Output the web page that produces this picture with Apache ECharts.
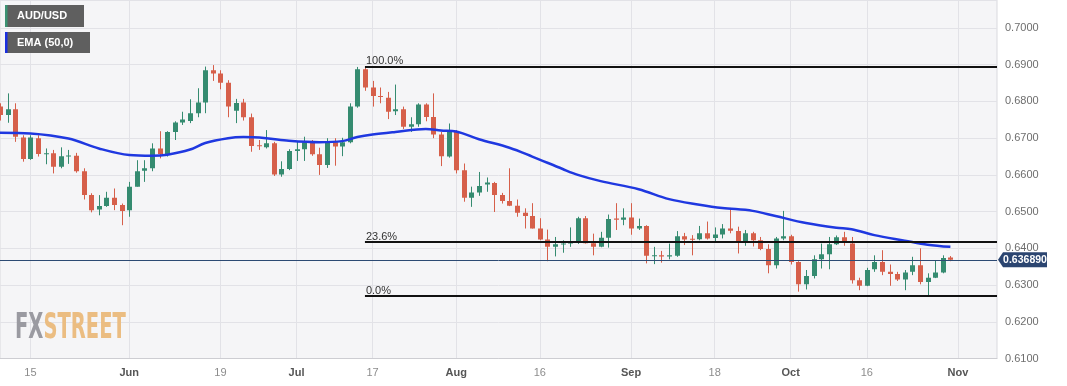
<!DOCTYPE html>
<html><head><meta charset="utf-8">
<script src="https://cdn.jsdelivr.net/npm/echarts@6/dist/echarts.min.js"></script>
<style>html,body{margin:0;padding:0;background:#fff}#c{width:1067px;height:386px}</style>
</head><body><div id="c"></div>
<script>
// AUD/USD daily candles, trading-day index 0 = 9 May 2023 ... 125 = 31 Oct 2023
const openP = [0.6786,0.6763,0.6779,0.6702,0.6643,0.6700,0.6656,0.6659,0.6622,0.6650,
0.6652,0.6610,0.6545,0.6506,0.6515,0.6538,0.6518,0.6504,0.6568,0.6611,
0.6618,0.6672,0.6654,0.6717,0.6743,0.6747,0.6768,0.6797,0.6885,0.6876,
0.6851,0.6775,0.6797,0.6757,0.6681,0.6675,0.6686,0.6601,0.6616,0.6665,
0.6670,0.6689,0.6656,0.6627,0.6689,0.6677,0.6689,0.6786,0.6888,0.6838,
0.6815,0.6810,0.6773,0.6779,0.6731,0.6738,0.6792,0.6758,0.6710,0.6650,
0.6717,0.6613,0.6538,0.6552,0.6574,0.6578,0.6545,0.6529,0.6516,0.6497,
0.6488,0.6454,0.6424,0.6404,0.6411,0.6413,0.6418,0.6482,0.6414,0.6404,
0.6429,0.6481,0.6478,0.6484,0.6454,0.6461,0.6380,0.6381,0.6378,0.6380,
0.6433,0.6426,0.6425,0.6441,0.6428,0.6438,0.6454,0.6447,0.6418,0.6441,
0.6422,0.6398,0.6354,0.6427,0.6433,0.6363,0.6302,0.6325,0.6370,0.6384,
0.6411,0.6430,0.6413,0.6313,0.6298,0.6343,0.6363,0.6336,0.6330,0.6315,
0.6336,0.6354,0.6308,0.6320,0.6334,0.6375];
const highP = [0.6795,0.6822,0.6795,0.6708,0.6708,0.6708,0.6672,0.6668,0.6675,0.6668,
0.6660,0.6618,0.6550,0.6545,0.6554,0.6563,0.6522,0.6581,0.6640,0.6640,
0.6686,0.6719,0.6719,0.6746,0.6772,0.6806,0.6836,0.6895,0.6899,0.6885,
0.6858,0.6807,0.6807,0.6767,0.6695,0.6722,0.6690,0.6637,0.6670,0.6690,
0.6704,0.6695,0.6674,0.6700,0.6700,0.6701,0.6795,0.6894,0.6894,0.6856,
0.6838,0.6826,0.6846,0.6786,0.6757,0.6795,0.6795,0.6822,0.6717,0.6740,
0.6722,0.6631,0.6568,0.6608,0.6593,0.6581,0.6551,0.6618,0.6533,0.6509,
0.6523,0.6482,0.6451,0.6431,0.6422,0.6457,0.6486,0.6488,0.6440,0.6445,
0.6492,0.6523,0.6509,0.6523,0.6481,0.6463,0.6404,0.6393,0.6413,0.6447,
0.6442,0.6436,0.6461,0.6473,0.6457,0.6466,0.6510,0.6459,0.6450,0.6445,
0.6431,0.6411,0.6431,0.6502,0.6437,0.6365,0.6341,0.6381,0.6413,0.6431,
0.6435,0.6445,0.6431,0.6320,0.6347,0.6381,0.6395,0.6356,0.6336,0.6341,
0.6377,0.6400,0.6332,0.6366,0.6381,0.6379];
const lowP = [0.6748,0.6742,0.6690,0.6636,0.6641,0.6650,0.6629,0.6604,0.6618,0.6630,
0.6606,0.6533,0.6498,0.6490,0.6513,0.6504,0.6463,0.6486,0.6568,0.6581,
0.6610,0.6645,0.6650,0.6695,0.6736,0.6741,0.6757,0.6768,0.6856,0.6833,
0.6757,0.6741,0.6748,0.6663,0.6668,0.6672,0.6597,0.6595,0.6613,0.6638,
0.6638,0.6652,0.6600,0.6619,0.6625,0.6651,0.6686,0.6783,0.6829,0.6786,
0.6795,0.6752,0.6763,0.6725,0.6717,0.6731,0.6746,0.6700,0.6624,0.6647,
0.6604,0.6527,0.6513,0.6543,0.6554,0.6499,0.6522,0.6515,0.6486,0.6454,
0.6454,0.6422,0.6365,0.6378,0.6388,0.6404,0.6412,0.6413,0.6381,0.6403,
0.6402,0.6450,0.6463,0.6437,0.6450,0.6359,0.6357,0.6361,0.6370,0.6377,
0.6409,0.6381,0.6422,0.6424,0.6418,0.6427,0.6441,0.6386,0.6407,0.6405,
0.6395,0.6332,0.6345,0.6422,0.6356,0.6282,0.6288,0.6318,0.6345,0.6343,
0.6409,0.6407,0.6304,0.6286,0.6297,0.6336,0.6327,0.6298,0.6311,0.6286,
0.6327,0.6302,0.6270,0.6319,0.6332,0.6365];
const closeP = [0.6763,0.6779,0.6704,0.6643,0.6702,0.6657,0.6659,0.6622,0.6651,0.6653,
0.6610,0.6545,0.6504,0.6515,0.6538,0.6518,0.6502,0.6568,0.6610,0.6618,
0.6672,0.6657,0.6717,0.6743,0.6751,0.6768,0.6797,0.6885,0.6876,0.6851,
0.6786,0.6796,0.6757,0.6679,0.6679,0.6686,0.6601,0.6616,0.6665,0.6670,
0.6689,0.6656,0.6627,0.6689,0.6677,0.6689,0.6786,0.6888,0.6838,0.6815,
0.6812,0.6772,0.6779,0.6731,0.6738,0.6792,0.6758,0.6710,0.6651,0.6717,
0.6613,0.6538,0.6552,0.6570,0.6579,0.6545,0.6529,0.6516,0.6497,0.6488,
0.6454,0.6424,0.6404,0.6411,0.6413,0.6418,0.6482,0.6414,0.6404,0.6429,
0.6480,0.6478,0.6484,0.6454,0.6461,0.6380,0.6381,0.6378,0.6381,0.6433,
0.6424,0.6424,0.6441,0.6427,0.6438,0.6454,0.6448,0.6418,0.6441,0.6422,
0.6398,0.6354,0.6427,0.6433,0.6363,0.6302,0.6325,0.6370,0.6384,0.6411,
0.6430,0.6415,0.6313,0.6298,0.6341,0.6363,0.6336,0.6330,0.6315,0.6334,
0.6354,0.6308,0.6320,0.6334,0.6374,0.636890];

// EMA (50) at these trading-day indices
const emaIdx = [0,4,9,13,17,20,22,25,27,30,32,35,38,42,45,47,49,52,56,58,60,63,67,70,74,76,79,84,88,92,95,99,102,106,110,112,115,119,122,125];
const emaVal = [0.6715,0.6713,0.6699,0.6672,0.6654,0.6652,0.6655,0.6669,0.6687,0.6700,0.6703,0.6700,0.6693,0.6689,0.6692,0.6703,0.6710,0.6717,0.6725,0.6721,0.6718,0.6697,0.6674,0.6650,0.6616,0.6600,0.6583,0.6561,0.6534,0.6519,0.6510,0.6502,0.6488,0.6469,0.6456,0.6452,0.6436,0.6421,0.6410,0.6404];

const tickIdx = [4,17,29,39,49,60,71,83,94,104,114,126];
const tickLabels = ['15','Jun','19','Jul','17','Aug','16','Sep','18','Oct','16','Nov'];
const monthLabels = ['Jun','Jul','Aug','Sep','Oct','Nov'];

const fibLevels = [0.6894, 0.6417, 0.6270];
const fibLabels = ['100.0%', '23.6%', '0.0%'];
const fibStartIdx = 48;
const lastPrice = 0.636890;

const X_MIN = 0, X_MAX = 131.13;
const Y_MIN = 0.61, Y_MAX = 0.70763;
const GREEN = '#358b70', RED = '#d65f4a', FONT = '"Liberation Sans", Arial, sans-serif';

const candles = openP.map((o, i) => [i, o, closeP[i], lowP[i], highP[i]]);
const ema = emaIdx.map((x, k) => [x, emaVal[k]]);

function renderCandle(params, api) {
  const i = api.value(0), o = api.value(1), c = api.value(2), l = api.value(3), h = api.value(4);
  const pO = api.coord([i, o]), pC = api.coord([i, c]), pL = api.coord([i, l]), pH = api.coord([i, h]);
  const col = c >= o ? GREEN : RED;
  const xc = Math.round(pO[0]);
  const top = Math.min(pO[1], pC[1]);
  const bh = Math.max(1, Math.abs(pO[1] - pC[1]));
  return { type: 'group', children: [
    { type: 'line', shape: { x1: xc + 0.5, y1: pH[1], x2: xc + 0.5, y2: pL[1] }, style: { stroke: col, lineWidth: 1 } },
    { type: 'rect', shape: { x: xc - 2, y: top, width: 5, height: bh }, style: { fill: col } }
  ]};
}

const fibMarks = fibLevels.map((v, k) => [
  { coord: [fibStartIdx, v], label: { show: true, formatter: fibLabels[k], position: 'insideStartTop', distance: [1, 0], color: '#333', fontSize: 11, fontFamily: FONT }, lineStyle: { color: '#111', width: 2, type: 'solid' } },
  { coord: [X_MAX, v] }
]);
const priceMark = [
  { coord: [X_MIN, lastPrice], label: { show: false }, lineStyle: { color: '#2c4a73', width: 1, type: 'solid' } },
  { coord: [X_MAX, lastPrice] }
];

const chart = echarts.init(document.getElementById('c'), null, { renderer: 'canvas' });
chart.setOption({
  animation: false,
  backgroundColor: '#ffffff',
  textStyle: { fontFamily: FONT },
  grid: { left: 0, right: 70, top: 0, bottom: 27.5, show: true, backgroundColor: '#f5f5f7', borderColor: '#d9d9de', borderWidth: 1 },
  xAxis: {
    type: 'value', min: X_MIN, max: X_MAX,
    axisLine: { show: true, lineStyle: { color: '#cdcdd2', width: 1 } },
    axisTick: { show: false, customValues: tickIdx },
    splitLine: { show: true, lineStyle: { color: '#e2e2e7', width: 1 } },
    axisLabel: {
      customValues: tickIdx, margin: 9, fontSize: 11, color: '#8c8c8c', fontFamily: FONT,
      formatter: v => { const k = tickIdx.indexOf(Math.round(v)); const t = k >= 0 ? tickLabels[k] : ''; return monthLabels.includes(t) ? '{m|' + t + '}' : t; },
      rich: { m: { fontWeight: 'bold', color: '#555', fontSize: 11, fontFamily: FONT } }
    }
  },
  yAxis: {
    type: 'value', position: 'right', min: Y_MIN, max: Y_MAX, interval: 0.01,
    axisLine: { show: false }, axisTick: { show: false },
    splitLine: { show: true, lineStyle: { color: '#e2e2e7', width: 1 } },
    axisLabel: { margin: 8, fontSize: 11, color: '#6e6e6e', fontFamily: FONT, showMaxLabel: false,
      formatter: v => (Math.abs(v * 100 - Math.round(v * 100)) < 1e-6 ? v.toFixed(4) : '') }
  },
  series: [
    { type: 'custom', name: 'AUD/USD', renderItem: renderCandle, data: candles, encode: { x: 0, y: [1, 2, 3, 4] }, clip: true, z: 3 },
    { type: 'line', name: 'EMA (50,0)', data: ema, smooth: 0.35, showSymbol: false, symbol: 'none',
      lineStyle: { color: '#1f38e0', width: 2.5 }, z: 4, silent: true,
      markLine: { silent: true, symbol: 'none', animation: false, precision: 6,
        data: [priceMark].concat(fibMarks) } }
  ]
});

const py = chart.convertToPixel({ xAxisIndex: 0, yAxisIndex: 0 }, [X_MIN, lastPrice])[1];
const gx = chart.convertToPixel({ xAxisIndex: 0, yAxisIndex: 0 }, [X_MAX, lastPrice])[0];
chart.setOption({
  graphic: [
    { type: 'rect', shape: { x: 5, y: 5, width: 79, height: 22 }, style: { fill: '#5f5f5f' }, z: 10 },
    { type: 'rect', shape: { x: 5, y: 5, width: 2.5, height: 22 }, style: { fill: '#3b9272' }, z: 11 },
    { type: 'text', x: 17, y: 16, style: { text: 'AUD/USD', fill: '#fff', font: 'bold 11px ' + FONT, verticalAlign: 'middle' }, z: 11 },
    { type: 'rect', shape: { x: 5, y: 32, width: 85, height: 21 }, style: { fill: '#5f5f5f' }, z: 10 },
    { type: 'rect', shape: { x: 5, y: 32, width: 2.5, height: 21 }, style: { fill: '#1a2fe0' }, z: 11 },
    { type: 'text', x: 17, y: 42.5, style: { text: 'EMA (50,0)', fill: '#fff', font: 'bold 11px ' + FONT, verticalAlign: 'middle' }, z: 11 },
    { type: 'text', x: 15, y: 311, scaleX: 0.62, z: 1, silent: true,
      style: { text: '{a|FX}{b|STREET}', rich: {
        a: { fill: '#9a9aa1', fontSize: 35, fontWeight: 'bold', fontFamily: '"DejaVu Sans Condensed", "DejaVu Sans"' },
        b: { fill: '#ebbd82', fontSize: 35, fontWeight: 'bold', fontFamily: '"DejaVu Sans Condensed", "DejaVu Sans"' } } } },
    { type: 'polygon', shape: { points: [[gx + 1, py], [gx + 6, py - 7.5], [gx + 50, py - 7.5], [gx + 50, py + 7.5], [gx + 6, py + 7.5]] }, style: { fill: '#2b4570' }, z: 12 },
    { type: 'text', x: gx + 28, y: py + 0.5, style: { text: lastPrice.toFixed(6), fill: '#fff', font: 'bold 10.5px ' + FONT, align: 'center', verticalAlign: 'middle' }, z: 13 }
  ]
});
</script></body></html>
